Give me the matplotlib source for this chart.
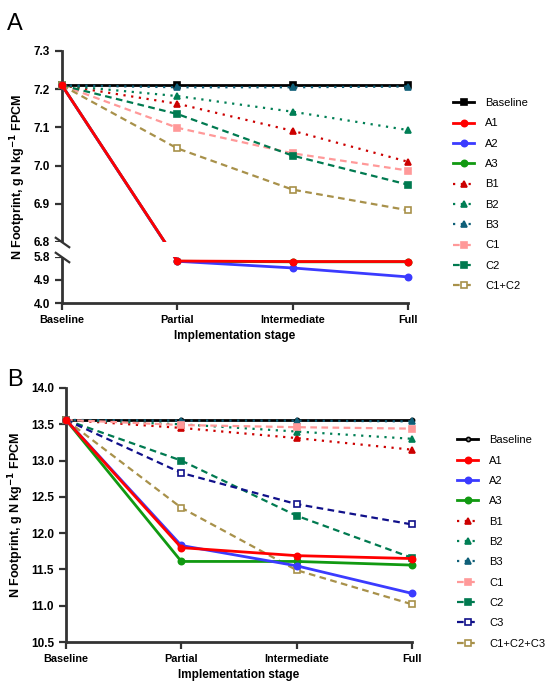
import numpy as np
import matplotlib
matplotlib.use('Agg')
import matplotlib.pyplot as plt
from matplotlib.patches import Rectangle
from matplotlib.transforms import blended_transform_factory

plt.rcParams['font.family'] = ['Liberation Sans', 'DejaVu Sans']

stages = ['Baseline', 'Partial', 'Intermediate', 'Full']

# panel A values (g N / kg FPCM)
a_labels = ['Baseline', 'A1', 'A2', 'A3', 'B1', 'B2', 'B3', 'C1', 'C2', 'C1+C2']
a_values = [
    [7.21, 7.21, 7.21, 7.21],
    [7.21, 5.64, 5.62, 5.62],
    [7.21, 5.63, 5.37, 5.02],
    [7.21, 5.63, 5.61, 5.61],
    [7.21, 7.162, 7.091, 7.01],
    [7.21, 7.182, 7.141, 7.093],
    [7.21, 7.205, 7.205, 7.207],
    [7.21, 7.099, 7.032, 6.987],
    [7.21, 7.135, 7.026, 6.95],
    [7.21, 7.045, 6.937, 6.883],
]

# panel B values
b_labels = ['Baseline', 'A1', 'A2', 'A3', 'B1', 'B2', 'B3', 'C1', 'C2', 'C3', 'C1+C2+C3']
b_values = [
    [13.56, 13.56, 13.56, 13.56],
    [13.56, 11.80, 11.69, 11.65],
    [13.56, 11.83, 11.55, 11.17],
    [13.56, 11.61, 11.61, 11.56],
    [13.56, 13.45, 13.31, 13.15],
    [13.56, 13.50, 13.40, 13.30],
    [13.56, 13.55, 13.55, 13.54],
    [13.56, 13.49, 13.46, 13.44],
    [13.56, 13.00, 12.24, 11.66],
    [13.56, 12.83, 12.40, 12.12],
    [13.56, 12.35, 11.49, 11.02],
]

dot = (0, (1, 2.5))
dash = (0, (3, 2))
# colour, linestyle, marker, filled
styles = {
    'Baseline': ('black', '-', 's', True),
    'A1': ('#ff0000', '-', 'o', True),
    'A2': ('#3b3bff', '-', 'o', True),
    'A3': ('#119911', '-', 'o', True),
    'B1': ('#cc0000', dot, '^', True),
    'B2': ('#007f55', dot, '^', True),
    'B3': ('#0f5f78', dot, '^', True),
    'C1': ('#ff9999', dash, 's', True),
    'C2': ('#007a50', dash, 's', True),
    'C3': ('#10108a', dash, 's', False),
    'C1+C2': ('#a8914a', dash, 's', False),
    'C1+C2+C3': ('#a8914a', dash, 's', False),
}
zorders = {'A1': 5, 'A2': 4, 'A3': 3}

spine_col = '#333333'


def draw_series(ax, labels, values, baseline_marker='s'):
    x = np.arange(len(stages))
    for lab, vals in zip(labels, values):
        col, ls, mk, filled = styles[lab]
        lw = 2.0 if ls == '-' else 1.6
        ms = 4.5
        mfc = col if filled else 'white'
        if lab == 'Baseline' and baseline_marker != 's':
            mk, mfc, ms = baseline_marker, '#999999', 3
        ax.plot(x, vals, color=col, linestyle=ls, linewidth=lw, marker=mk,
                markersize=ms, markerfacecolor=mfc, markeredgecolor=col,
                markeredgewidth=1.2, label=lab, zorder=zorders.get(lab, 2),
                clip_on=False)


def style_axes(ax):
    for s in ['top', 'right']:
        ax.spines[s].set_visible(False)
    for s in ['left', 'bottom']:
        ax.spines[s].set_linewidth(2)
        ax.spines[s].set_color(spine_col)
    ax.tick_params(width=1.6, length=5, color=spine_col)
    ax.set_xticks(range(len(stages)))
    ax.set_xticklabels(stages, fontsize=7.8, fontweight='bold')
    for t in ax.get_yticklabels():
        t.set_fontsize(8.5)
        t.set_fontweight('bold')
    ax.set_xlim(0, 3)
    ax.set_xlabel('Implementation stage', fontsize=8.5, fontweight='bold', labelpad=4)
    ax.set_ylabel('N Footprint, g N kg$^{\\mathbf{-1}}$ FPCM', fontsize=9,
                  fontweight='bold', labelpad=4)


fig = plt.figure(figsize=(5.5, 6.91), dpi=100)

# ---- panel A with broken y axis ----
axA = fig.add_axes([0.1127, 0.5615, 0.629, 0.3647])

k_low, k_gap, k_up = 25.56, 15.0, 381.4


def fwd(y):
    y = np.asarray(y, dtype=float)
    return np.where(y <= 5.8, (y - 4.0) * k_low,
                    np.where(y <= 6.8, 46 + (y - 5.8) * k_gap, 61 + (y - 6.8) * k_up))


def inv(t):
    t = np.asarray(t, dtype=float)
    return np.where(t <= 46, 4.0 + t / k_low,
                    np.where(t <= 61, 5.8 + (t - 46) / k_gap, 6.8 + (t - 61) / k_up))


axA.set_yscale('function', functions=(fwd, inv))
axA.set_ylim(4.0, 7.3)
draw_series(axA, a_labels, a_values)
axA.set_yticks([4.0, 4.9, 5.8, 6.8, 6.9, 7.0, 7.1, 7.2, 7.3])
axA.set_yticklabels(['4.0', '4.9', '5.8', '6.8', '6.9', '7.0', '7.1', '7.2', '7.3'])
axA.minorticks_off()
style_axes(axA)

# blank out the gap between 5.8 and 6.8, then draw break marks
trA = blended_transform_factory(axA.transAxes, axA.transData)
axA.add_patch(Rectangle((-0.03, 5.82), 1.1, 0.96, transform=trA, facecolor='white',
                        edgecolor='none', zorder=10, clip_on=False))
for yb in [6.8, 5.8]:
    axA.plot([0], [yb], transform=trA, marker=[(-1, 0.7), (1, -0.7)], markersize=11,
             markeredgewidth=1.6, color=spine_col, clip_on=False, zorder=11)

axA.legend(loc='upper left', bbox_to_anchor=(0.824, 0.858), bbox_transform=fig.transFigure,
           frameon=False, fontsize=8, handlelength=1.9, handletextpad=1.0,
           labelspacing=0.93, borderpad=0, borderaxespad=0)
fig.text(0.013, 0.965, 'A', fontsize=17, va='center')

# ---- panel B ----
axB = fig.add_axes([0.12, 0.0709, 0.629, 0.3676])
draw_series(axB, b_labels, b_values, baseline_marker='o')
axB.set_ylim(10.5, 14.0)
axB.set_yticks(np.arange(10.5, 14.01, 0.5))
axB.set_yticklabels([f'{v:.1f}' for v in np.arange(10.5, 14.01, 0.5)])
style_axes(axB)
axB.legend(loc='upper left', bbox_to_anchor=(0.831, 0.370), bbox_transform=fig.transFigure,
           frameon=False, fontsize=8, handlelength=1.9, handletextpad=1.0,
           labelspacing=0.93, borderpad=0, borderaxespad=0)
fig.text(0.013, 0.45, 'B', fontsize=17, va='center')

fig.savefig('out.png', dpi=100)
